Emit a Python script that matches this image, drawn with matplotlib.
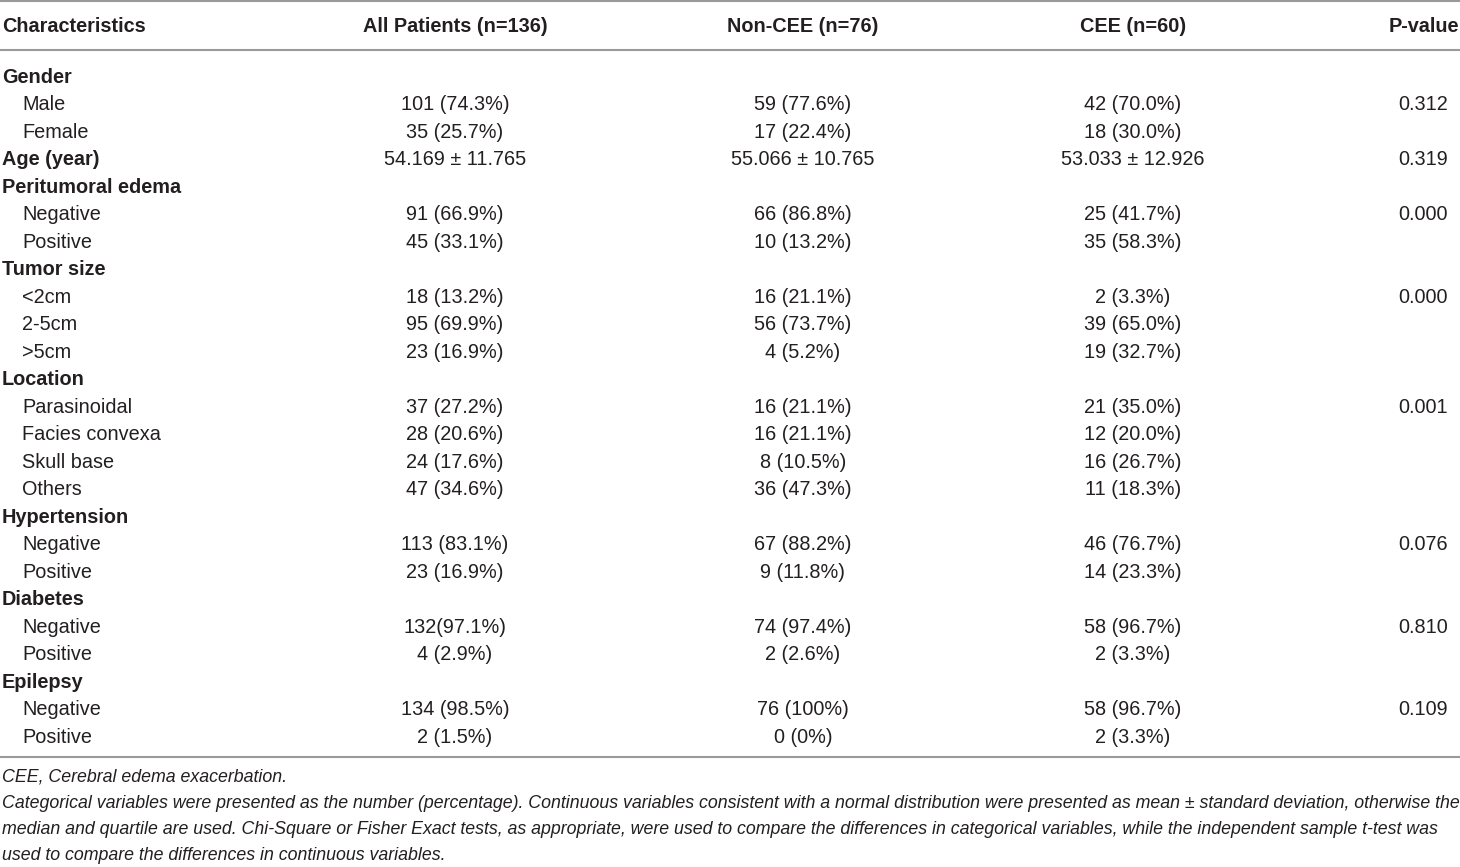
import matplotlib
matplotlib.use("Agg")
import matplotlib.pyplot as plt

headers = ["Characteristics", "All Patients (n=136)", "Non-CEE (n=76)", "CEE (n=60)", "P-value"]

# (label, is_group_header, all, noncee, cee, p)
rows = [
    ("Gender", True, "", "", "", ""),
    ("Male", False, "101 (74.3%)", "59 (77.6%)", "42 (70.0%)", "0.312"),
    ("Female", False, "35 (25.7%)", "17 (22.4%)", "18 (30.0%)", ""),
    ("Age (year)", True, "54.169 ± 11.765", "55.066 ± 10.765", "53.033 ± 12.926", "0.319"),
    ("Peritumoral edema", True, "", "", "", ""),
    ("Negative", False, "91 (66.9%)", "66 (86.8%)", "25 (41.7%)", "0.000"),
    ("Positive", False, "45 (33.1%)", "10 (13.2%)", "35 (58.3%)", ""),
    ("Tumor size", True, "", "", "", ""),
    ("<2cm", False, "18 (13.2%)", "16 (21.1%)", "2 (3.3%)", "0.000"),
    ("2-5cm", False, "95 (69.9%)", "56 (73.7%)", "39 (65.0%)", ""),
    (">5cm", False, "23 (16.9%)", "4 (5.2%)", "19 (32.7%)", ""),
    ("Location", True, "", "", "", ""),
    ("Parasinoidal", False, "37 (27.2%)", "16 (21.1%)", "21 (35.0%)", "0.001"),
    ("Facies convexa", False, "28 (20.6%)", "16 (21.1%)", "12 (20.0%)", ""),
    ("Skull base", False, "24 (17.6%)", "8 (10.5%)", "16 (26.7%)", ""),
    ("Others", False, "47 (34.6%)", "36 (47.3%)", "11 (18.3%)", ""),
    ("Hypertension", True, "", "", "", ""),
    ("Negative", False, "113 (83.1%)", "67 (88.2%)", "46 (76.7%)", "0.076"),
    ("Positive", False, "23 (16.9%)", "9 (11.8%)", "14 (23.3%)", ""),
    ("Diabetes", True, "", "", "", ""),
    ("Negative", False, "132(97.1%)", "74 (97.4%)", "58 (96.7%)", "0.810"),
    ("Positive", False, "4 (2.9%)", "2 (2.6%)", "2 (3.3%)", ""),
    ("Epilepsy", True, "", "", "", ""),
    ("Negative", False, "134 (98.5%)", "76 (100%)", "58 (96.7%)", "0.109"),
    ("Positive", False, "2 (1.5%)", "0 (0%)", "2 (3.3%)", ""),
]

footnotes = [
    "CEE, Cerebral edema exacerbation.",
    "Categorical variables were presented as the number (percentage). Continuous variables consistent with a normal distribution were presented as mean ± standard deviation, otherwise the",
    "median and quartile are used. Chi-Square or Fisher Exact tests, as appropriate, were used to compare the differences in categorical variables, while the independent sample t-test was",
    "used to compare the differences in continuous variables.",
]

W, H = 1460, 867
fig = plt.figure(figsize=(W / 100, H / 100), dpi=100)
ax = fig.add_axes([0, 0, 1, 1])
ax.set_xlim(0, W)
ax.set_ylim(H, 0)
ax.axis("off")

plt.rcParams["font.family"] = ["Liberation Sans", "DejaVu Sans"]
txt = "#231f20"
fs = 14.3
line_c = "#9a9a9a"

col_x = [2, 455, 803, 1133, 1423]

# lines
ax.plot([0, W], [1, 1], color=line_c, lw=1.5)
ax.plot([0, W], [50, 50], color=line_c, lw=1.5)
ax.plot([0, W], [757, 757], color=line_c, lw=1.5)

# header
hy = 27
ax.text(col_x[0], hy, headers[0], ha="left", va="center", fontsize=fs, fontweight="bold", color=txt)
for i in range(1, 4):
    ax.text(col_x[i], hy, headers[i], ha="center", va="center", fontsize=fs, fontweight="bold", color=txt)
ax.text(1459, hy, headers[4], ha="right", va="center", fontsize=fs, fontweight="bold", color=txt)

y0 = 77.5
dy = 27.48
for k, (lab, grp, a, b, c, p) in enumerate(rows):
    y = y0 + k * dy
    if grp:
        ax.text(col_x[0], y, lab, ha="left", va="center", fontsize=fs, fontweight="bold", color=txt)
    else:
        ax.text(col_x[0] + 20, y, lab, ha="left", va="center", fontsize=fs, color=txt)
    for xi, v in zip(col_x[1:], (a, b, c, p)):
        if v:
            ax.text(xi, y, v, ha="center", va="center", fontsize=fs, color=txt)

fy = [777, 804, 830, 856]
for yy, t in zip(fy, footnotes):
    ax.text(2, yy, t, ha="left", va="center", fontsize=12.75, style="italic", color=txt)

fig.savefig("out.png", dpi=100)
